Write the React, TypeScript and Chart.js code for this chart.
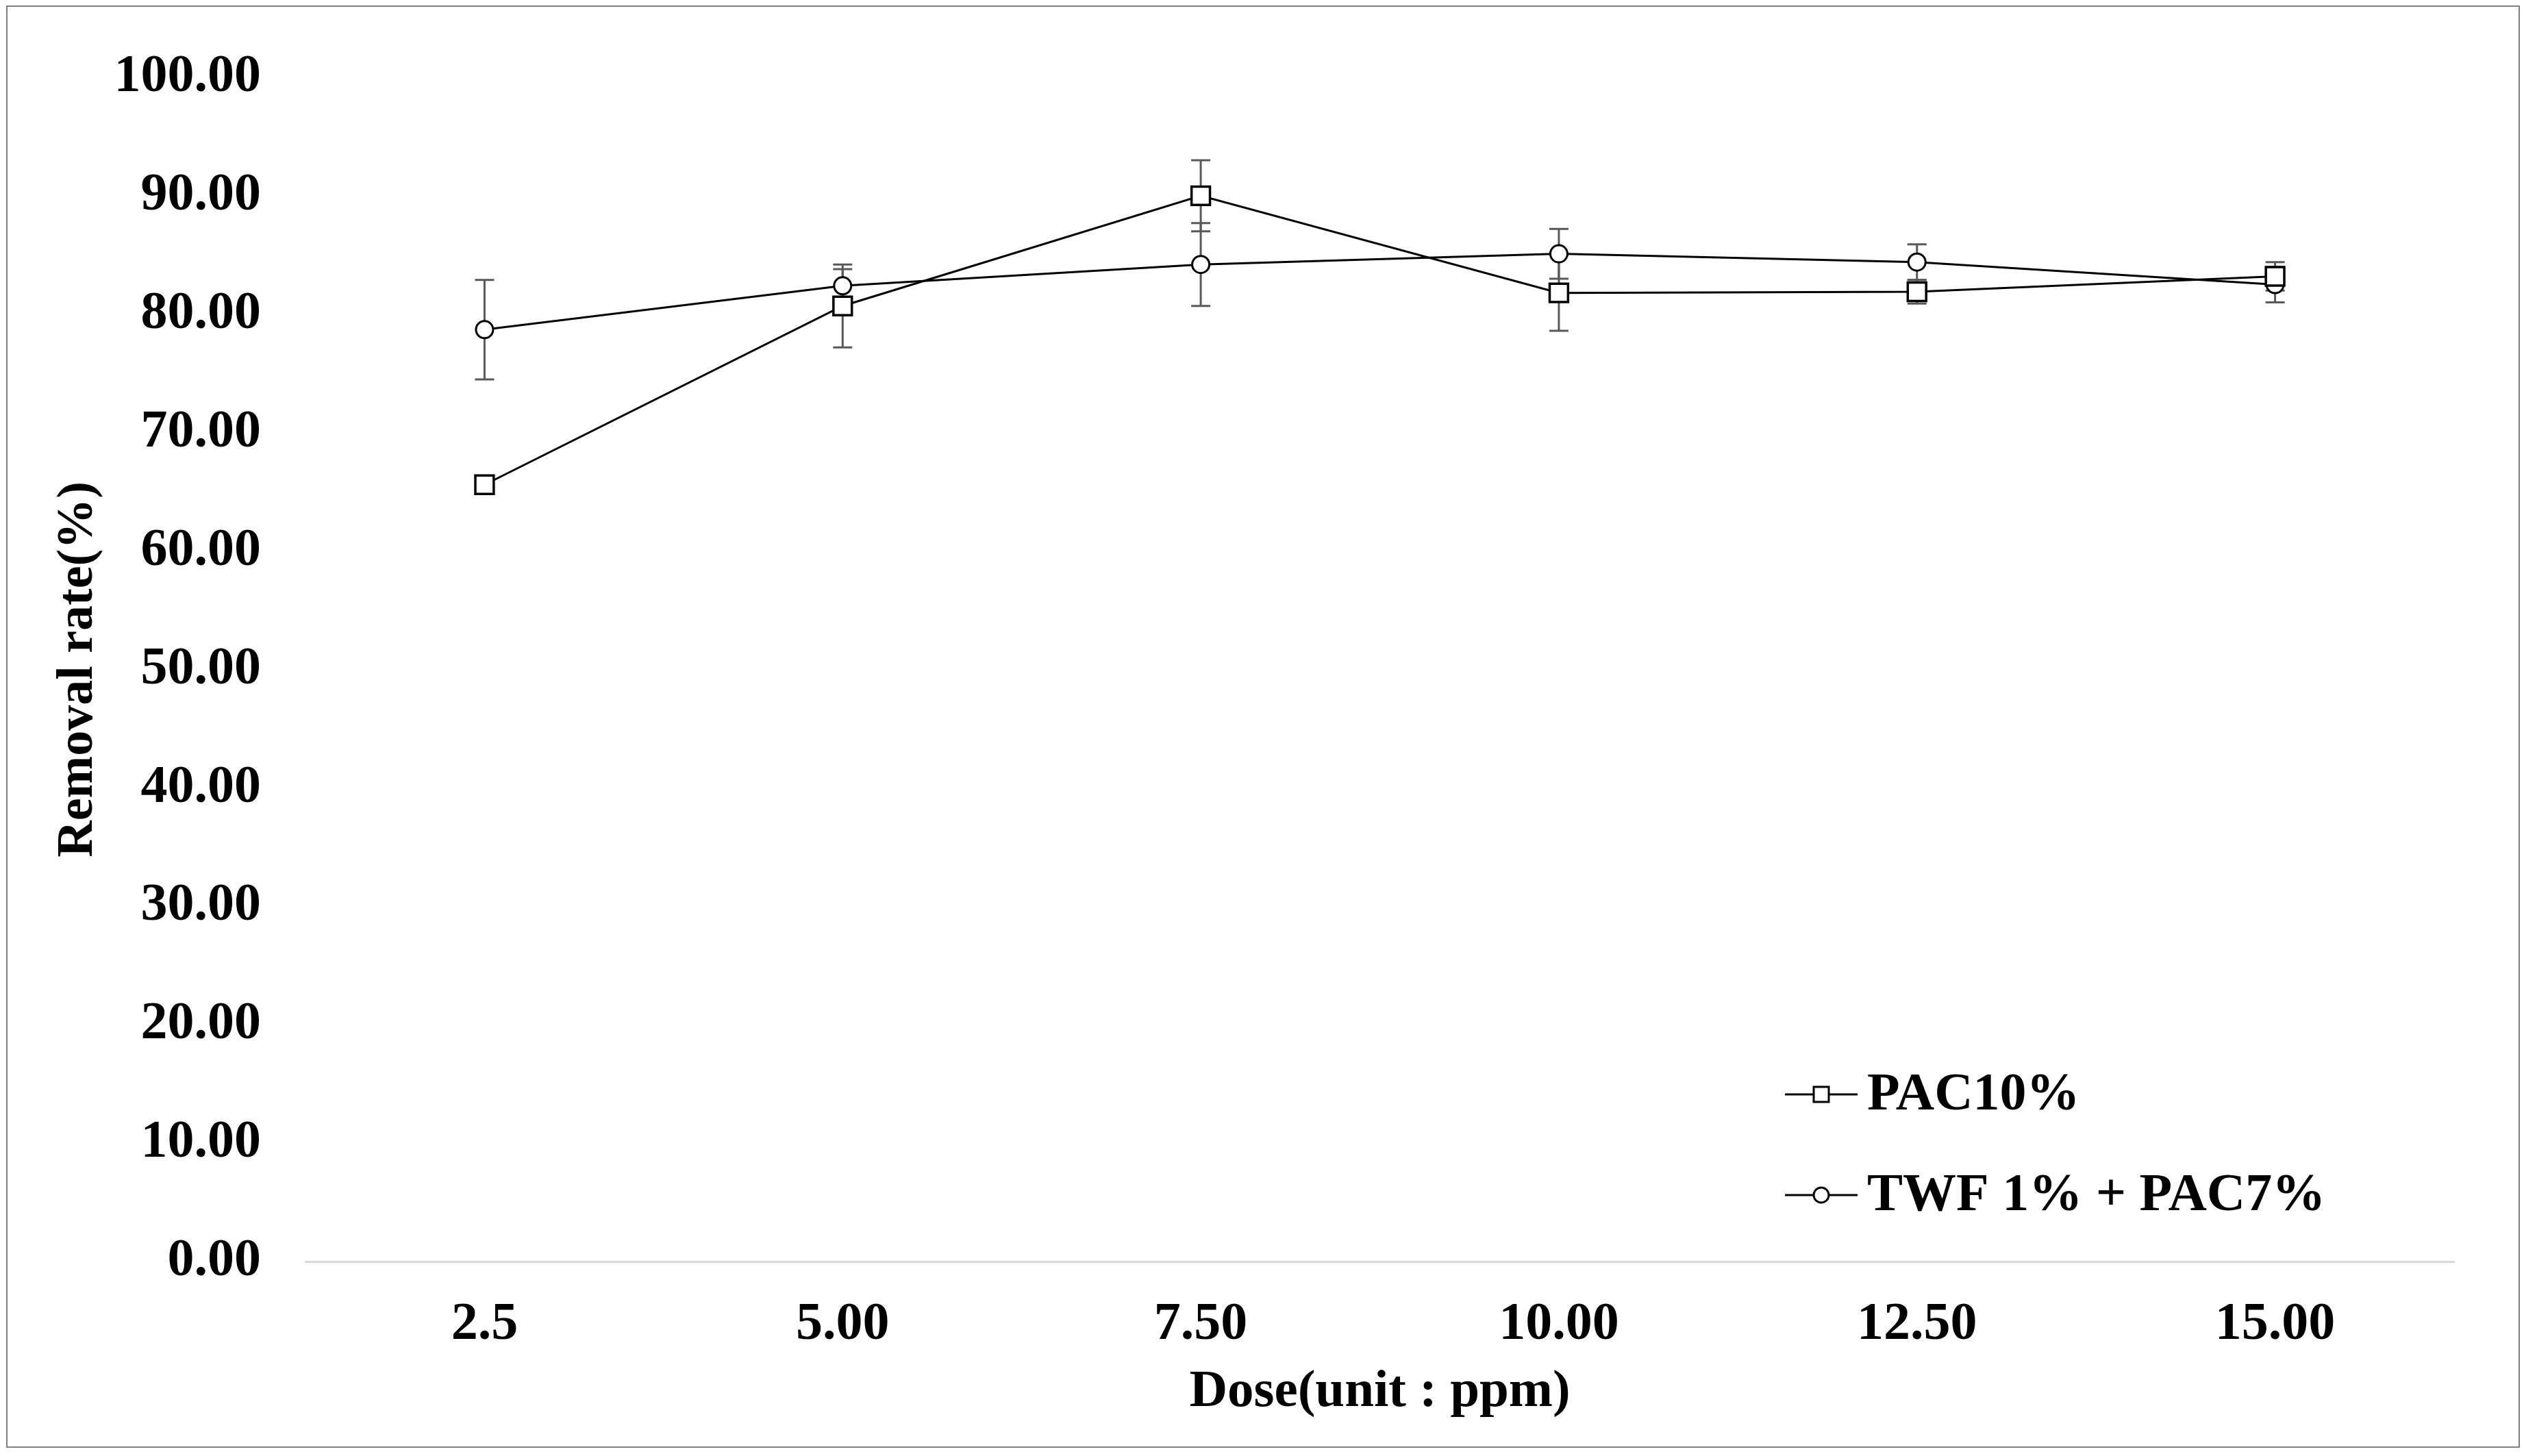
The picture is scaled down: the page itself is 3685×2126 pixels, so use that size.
import React, { useEffect, useRef } from "react";
import { Chart, registerables } from "chart.js";

Chart.register(...registerables);

const doses = ["2.5", "5.00", "7.50", "10.00", "12.50", "15.00"];
const pac10 = [65.6, 80.7, 90.0, 81.8, 81.9, 83.2];
const pac10Err = [0.0, 3.5, 3.0, 3.2, 1.0, 1.2];
const twf = [78.7, 82.4, 84.2, 85.1, 84.4, 82.5];
const twfErr = [4.2, 1.4, 3.5, 2.1, 1.5, 1.5];
const seriesLabels = ["PAC10%", "TWF 1% + PAC7%"];
const yTickStep = 10;

const FONT = "'Liberation Serif', 'Times New Roman', serif";
const W = 3685;
const H = 2126;
const TICK_SIZE = 78;

const errorBarPlugin = {
  id: "errorBars",
  beforeDatasetsDraw(chart: any) {
    const { ctx } = chart;
    const y = chart.scales.y;
    const errs = [pac10Err, twfErr];
    ctx.save();
    ctx.strokeStyle = "#595959";
    ctx.lineWidth = 3;
    chart.data.datasets.forEach((ds: any, di: number) => {
      const meta = chart.getDatasetMeta(di);
      meta.data.forEach((pt: any, i: number) => {
        const e = errs[di][i];
        if (!e) return;
        const v = ds.data[i];
        const yt = y.getPixelForValue(v + e);
        const yb = y.getPixelForValue(v - e);
        const x = pt.x;
        ctx.beginPath();
        ctx.moveTo(x, yt);
        ctx.lineTo(x, yb);
        ctx.moveTo(x - 14, yt);
        ctx.lineTo(x + 14, yt);
        ctx.moveTo(x - 14, yb);
        ctx.lineTo(x + 14, yb);
        ctx.stroke();
      });
    });
    ctx.restore();
  },
};

const frameAndLegendPlugin = {
  id: "frameLegend",
  beforeDraw(chart: any) {
    const { ctx } = chart;
    ctx.save();
    ctx.fillStyle = "#ffffff";
    ctx.fillRect(0, 0, W, H);
    ctx.strokeStyle = "#7f7f7f";
    ctx.lineWidth = 2;
    ctx.strokeRect(10, 9, 3668, 2104);
    ctx.restore();
  },
  afterDraw(chart: any) {
    const { ctx } = chart;
    ctx.save();
    const x0 = 2606;
    const rows = [1598, 1745];
    chart.data.datasets.forEach((ds: any, i: number) => {
      const yy = rows[i];
      ctx.strokeStyle = "#000";
      ctx.lineWidth = 3;
      ctx.beginPath();
      ctx.moveTo(x0, yy);
      ctx.lineTo(x0 + 106, yy);
      ctx.stroke();
      const cx = x0 + 53;
      ctx.fillStyle = "#fff";
      ctx.lineWidth = 3;
      ctx.beginPath();
      if (ds.pointStyle === "rect") {
        ctx.rect(cx - 11, yy - 11, 22, 22);
      } else {
        ctx.arc(cx, yy, 11, 0, Math.PI * 2);
      }
      ctx.fill();
      ctx.stroke();
      ctx.fillStyle = "#000";
      ctx.font = `bold ${TICK_SIZE}px ${FONT}`;
      ctx.textAlign = "left";
      ctx.textBaseline = "middle";
      ctx.fillText(ds.label, x0 + 120, yy + 2);
    });
    ctx.restore();
  },
};

export default function App() {
  const ref = useRef<HTMLCanvasElement | null>(null);
  useEffect(() => {
    document.body.style.margin = "0";
    const canvas = ref.current!;
    const chart = new Chart(canvas, {
      type: "line",
      data: {
        labels: doses,
        datasets: [
          {
            label: seriesLabels[0],
            data: pac10,
            borderColor: "#000",
            borderWidth: 3,
            pointStyle: "rect",
            pointRadius: 19,
            pointBorderWidth: 3.5,
            pointBackgroundColor: "#fff",
            pointBorderColor: "#000",
            tension: 0,
          },
          {
            label: seriesLabels[1],
            data: twf,
            borderColor: "#000",
            borderWidth: 3,
            pointStyle: "circle",
            pointRadius: 12.5,
            pointBorderWidth: 3,
            pointBackgroundColor: "#fff",
            pointBorderColor: "#000",
            tension: 0,
          },
        ],
      },
      options: {
        animation: false,
        responsive: false,
        maintainAspectRatio: false,
        devicePixelRatio: 1,
        layout: { padding: { left: 10, top: 113, right: 102, bottom: 10 } },
        plugins: {
          legend: { display: false },
          tooltip: { enabled: false },
          title: { display: false },
        },
        scales: {
          x: {
            type: "category",
            offset: true,
            grid: { display: false, drawTicks: false },
            border: { display: true, color: "#d9d9d9", width: 3 },
            ticks: {
              color: "#000",
              padding: 46,
              font: { family: FONT, size: TICK_SIZE, weight: "bold" },
              maxRotation: 0,
            },
            title: {
              display: true,
              text: "Dose(unit : ppm)",
              color: "#000",
              font: { family: FONT, size: 77, weight: "bold" },
              padding: { top: 0, bottom: 37 },
            },
            afterFit: (s: any) => {
              s.height = 274;
            },
          },
          y: {
            min: 0,
            max: 100,
            grid: { display: false, drawTicks: false },
            border: { display: false },
            ticks: {
              stepSize: yTickStep,
              color: "#000",
              padding: 65,
              font: { family: FONT, size: TICK_SIZE, weight: "bold" },
              callback: (v: any) => Number(v).toFixed(2),
            },
            title: {
              display: true,
              text: "Removal rate(%)",
              color: "#000",
              font: { family: FONT, size: 74, weight: "bold" },
              padding: { top: 60, bottom: 0 },
            },
            afterFit: (s: any) => {
              s.width = 436;
            },
          },
        },
      },
      plugins: [frameAndLegendPlugin, errorBarPlugin],
    });
    return () => chart.destroy();
  }, []);
  return (
    <div style={{ position: "absolute", left: 0, top: 0, width: W, height: H }}>
      <canvas ref={ref} width={W} height={H} style={{ width: W, height: H, display: "block" }} />
    </div>
  );
}
